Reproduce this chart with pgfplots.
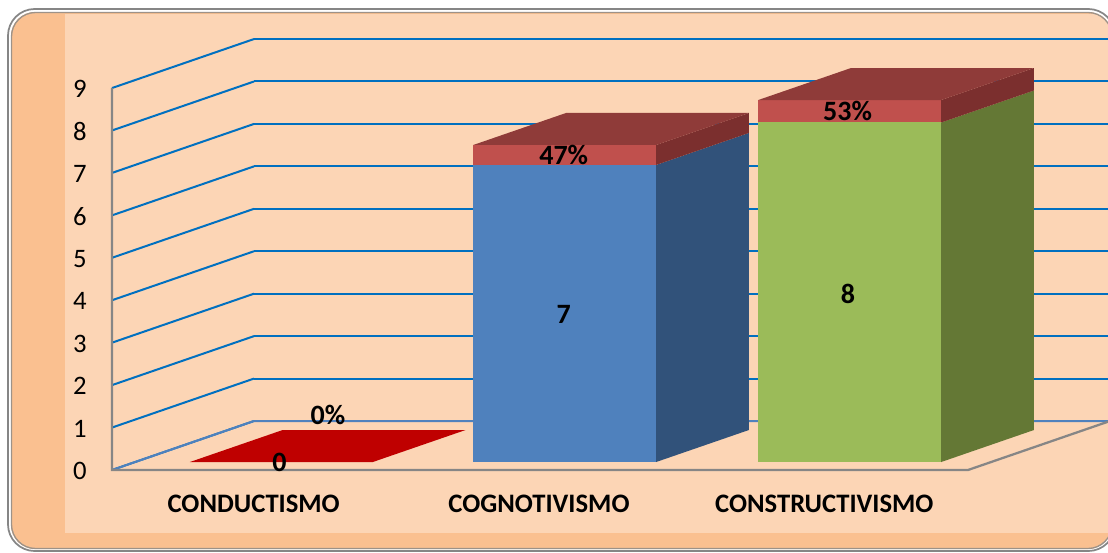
\documentclass[border=0pt]{standalone}
\usepackage{pgfplots}
\pgfplotsset{compat=1.18}
\usepackage{fontspec}
\setmainfont{Carlito}
\definecolor{panel}{HTML}{FCD5B5}
\definecolor{band}{HTML}{FAC090}
\definecolor{gridb}{HTML}{0070C0}
\definecolor{axgray}{HTML}{868686}
\definecolor{blueF}{HTML}{4F81BD}
\definecolor{blueS}{HTML}{31527A}
\definecolor{redF}{HTML}{C0504D}
\definecolor{redT}{HTML}{8F3B39}
\definecolor{redS}{HTML}{7B2F2E}
\definecolor{greenF}{HTML}{9BBB59}
\definecolor{greenS}{HTML}{647835}
\newcommand{\barseg}[6]{%
  \addplot3[fill=#5,draw=none,mark=none,forget plot] coordinates {(#1,0.163,#3)(#2,0.163,#3)(#2,0.163,#4)(#1,0.163,#4)};
  \addplot3[fill=#6,draw=none,mark=none,forget plot] coordinates {(#2,0.163,#3)(#2,0.816,#3)(#2,0.816,#4)(#2,0.163,#4)};
}
\newcommand{\bartop}[4]{%
  \addplot3[fill=#4,draw=none,mark=none,forget plot] coordinates {(#1,0.163,#3)(#2,0.163,#3)(#2,0.816,#3)(#1,0.816,#3)};
}
\begin{document}
\begin{tikzpicture}
\begin{scope}[x=0.75pt,y=-0.75pt]
\fill[white] (0,0) rectangle (1108,553);
\begin{scope}
\clip[rounded corners=18pt] (11,12) rectangle (1112,549);
\fill[band] (0,0) rectangle (1108,553);
\fill[panel] (65,14) rectangle (1108,533);
\end{scope}
\draw[axgray,line width=1.3pt,rounded corners=20pt] (8,9) rectangle (1115,551);
\draw[axgray!80!band,line width=1pt,rounded corners=18pt] (11.5,12.5) rectangle (1112,548.5);
\end{scope}
\begin{axis}[
  at={(191pt,-352.5pt)},anchor=origin,
  x={(214pt,0pt)},y={(106.5pt,36.75pt)},z={(0pt,31.83pt)},
  xmin=-0.5,xmax=2.5,ymin=0,ymax=1,zmin=0,zmax=9,
  clip=false,
  xtick={0,1,2},xticklabels={CONDUCTISMO,COGNOTIVISMO,CONSTRUCTIVISMO},
  ytick=\empty,ztick={0,...,9},
  zmajorgrids=true,xmajorgrids=false,ymajorgrids=false,
  major grid style={gridb,line width=1.5pt},
  major tick length=0pt,
  axis line style={draw=none},
  /pgf/number format/assume math mode=true,
  ticklabel style={font=\fontsize{20}{22}\selectfont,black},
  xticklabel style={font=\fontsize{20}{22}\selectfont\bfseries,yshift=-15pt,xshift=6.5pt},
  zticklabel style={xshift=-15.5pt,yshift=0.6pt},
]
% axis frame
\addplot3[blueF,line width=1.5pt,mark=none,forget plot] coordinates {(-0.5,0,0)(-0.5,1,0)(2.5,1,0)};
\addplot3[axgray,line width=1.7pt,mark=none,forget plot] coordinates {(-0.5,0,9)(-0.5,0,0)(2.5,0,0)(2.5,1,0)};
% conductismo (0)
\bartop{-0.308}{0.333}{0}{red!75!black}
% cognotivismo
\barseg{0.685}{1.326}{0}{7}{blueF}{blueS}
\barseg{0.685}{1.326}{7}{7.47}{redF}{redS}
\bartop{0.685}{1.326}{7.47}{redT}
% constructivismo
\barseg{1.684}{2.325}{0}{8}{greenF}{greenS}
\barseg{1.684}{2.325}{8}{8.53}{redF}{redS}
\bartop{1.684}{2.325}{8.53}{redT}
\def\lab{\fontsize{21}{22}\selectfont\bfseries}
\node[font=\lab] at (axis cs:0.006,0.163,0) {0};
\node[font=\lab] at (axis cs:0.176,0.163,1.107) {0\%};
\node[font=\lab] at (axis cs:1.002,0.163,3.47) {7};
\node[font=\lab] at (axis cs:1.002,0.163,7.235) {47\%};
\node[font=\lab] at (axis cs:1.998,0.163,3.96) {8};
\node[font=\lab] at (axis cs:1.997,0.163,8.265) {53\%};
\end{axis}
\pgfresetboundingbox
\path[use as bounding box,x=0.75pt,y=-0.75pt] (0,0) rectangle (1108,553);
\end{tikzpicture}
\end{document}
